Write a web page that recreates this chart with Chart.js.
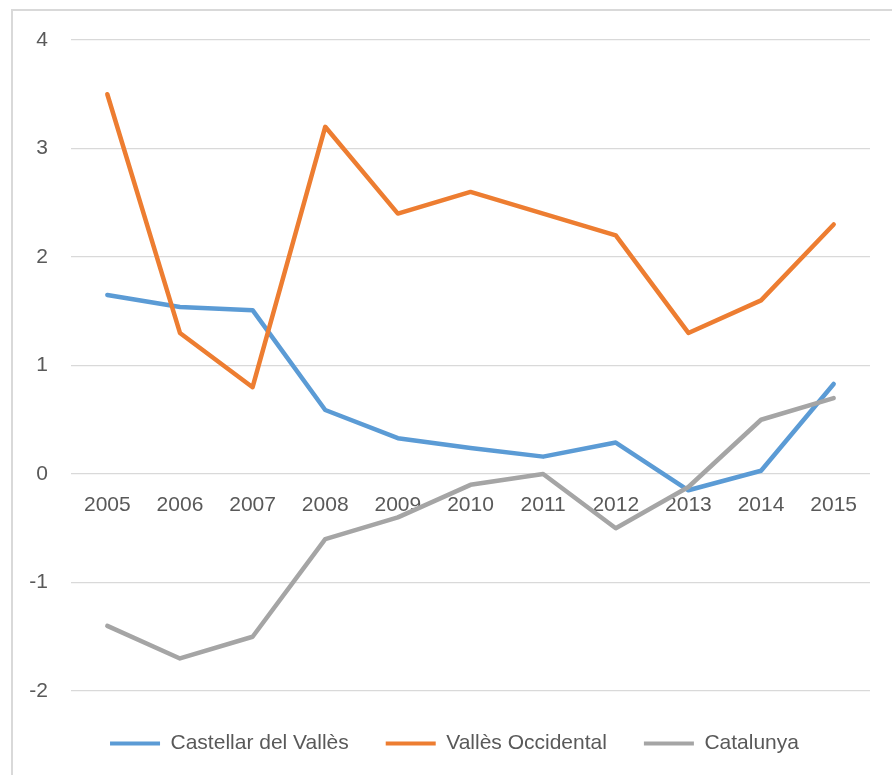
<!DOCTYPE html>
<html><head><meta charset="utf-8">
<script src="https://cdn.jsdelivr.net/npm/chart.js@4"></script>
<style>
html,body{margin:0;padding:0;background:#fff;overflow:hidden}
#frame{position:absolute;left:11px;top:9px;width:920px;height:820px;border:2px solid #d9d9d9;box-sizing:border-box}
#wrap{position:absolute;left:0;top:0;width:892px;height:775px}
</style></head><body>
<div id="frame"></div>
<div id="wrap"><canvas id="c" width="892" height="775"></canvas></div>
<script>
const years = ['2005','2006','2007','2008','2009','2010','2011','2012','2013','2014','2015'];
const castellar = [1.65, 1.54, 1.51, 0.59, 0.33, 0.24, 0.16, 0.29, -0.15, 0.03, 0.83];
const valles = [3.5, 1.3, 0.8, 3.2, 2.4, 2.6, 2.4, 2.2, 1.3, 1.6, 2.3];
const catalunya = [-1.4, -1.7, -1.5, -0.6, -0.4, -0.1, 0.0, -0.5, -0.12, 0.5, 0.7];
const seriesNames = ['Castellar del Vallès', 'Vallès Occidental', 'Catalunya'];
const seriesColors = ['#5B9BD5', '#ED7D31', '#A5A5A5'];
const yMin = -2, yMax = 4, yStep = 1;

const FONT = "'Liberation Sans', Arial, sans-serif";
const TXT = '#595959';
const GRID = '#d9d9d9';

const seriesData = [castellar, valles, catalunya];
const datasets = seriesData.map((d, i) => ({
  label: seriesNames[i],
  data: d,
  borderColor: seriesColors[i],
  backgroundColor: seriesColors[i],
  borderWidth: 4.5,
  pointRadius: 0,
  pointHoverRadius: 0,
  tension: 0,
  fill: false,
  borderJoinStyle: 'round',
  borderCapStyle: 'round',
  order: seriesData.length - i
}));

const legendShift = {
  id: 'legendShift',
  afterLayout(chart) {
    const lg = chart.legend;
    if (!lg) return;
    lg.left -= 16; lg.right -= 16;
    lg.top += 5; lg.bottom += 5;
  }
};

new Chart(document.getElementById('c'), {
  type: 'line',
  data: { labels: years, datasets },
  plugins: [legendShift],
  options: {
    responsive: false,
    animation: false,
    layout: { padding: { left: 0, right: 22, top: 40, bottom: 22 } },
    plugins: {
      tooltip: { enabled: false },
      legend: {
        position: 'bottom',
        fullSize: false,
        maxHeight: 62,
        labels: {
          boxWidth: 50,
          boxHeight: 4,
          padding: 37,
          color: TXT,
          font: { family: FONT, size: 21 },
          sort: (a, b) => a.datasetIndex - b.datasetIndex,
          generateLabels: (chart) => {
            const items = Chart.defaults.plugins.legend.labels.generateLabels(chart);
            items.forEach(it => { it.lineWidth = 0; it.fillStyle = seriesColors[it.datasetIndex]; });
            return items;
          }
        }
      }
    },
    scales: {
      x: {
        type: 'category',
        offset: true,
        position: { y: 0 },
        grid: { display: false, drawTicks: false },
        border: { display: false },
        ticks: { color: TXT, font: { family: FONT, size: 21 }, padding: 19, maxRotation: 0, autoSkip: false },
        afterFit: (s) => { s.height = 0; }
      },
      y: {
        min: yMin, max: yMax,
        grid: { color: GRID, lineWidth: 1.3, drawTicks: false },
        border: { display: false },
        ticks: { stepSize: yStep, color: TXT, font: { family: FONT, size: 21 }, padding: 23 },
        afterFit: (s) => { s.width = 71; }
      }
    }
  }
});
</script>
</body></html>
